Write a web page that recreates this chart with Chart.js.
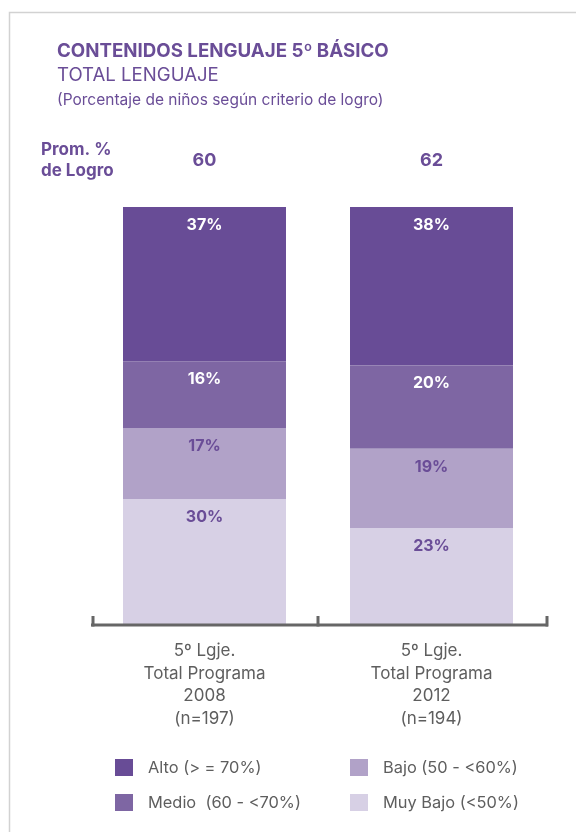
<!DOCTYPE html>
<html>
<head>
<meta charset="utf-8">
<script src="https://cdn.jsdelivr.net/npm/chart.js@4.4.1/dist/chart.umd.min.js"></script>
<style>
  html, body { margin: 0; padding: 0; background: #ffffff; }
  #wrap { width: 576px; height: 832px; position: relative; }
</style>
</head>
<body>
<div id="wrap"><canvas id="c" width="576" height="832"></canvas></div>
<script>
// Categories (multi-line axis labels)
const categories = [
  ["5º Lgje.", "Total Programa", "2008", "(n=197)"],
  ["5º Lgje.", "Total Programa", "2012", "(n=194)"]
];
// Share of children per achievement level (%)
const alto    = [37, 38];
const medio   = [16, 20];
const bajo    = [17, 19];
const muyBajo = [30, 23];
// Average achievement per group
const promLogro = [60, 62];

const seriesNames = ["Alto (> = 70%)", "Medio  (60 - <70%)", "Bajo (50 - <60%)", "Muy Bajo (<50%)"];

const FONT = "Inter, 'Liberation Sans', Arial, sans-serif";
const PURPLE = "#6a4d97";
const GREY = "#5e5e5e";
const COLORS = { alto: "#684c96", medio: "#7e66a3", bajo: "#b1a2c8", muyBajo: "#d7d0e5" };

// Frame, headings, averages, value labels, axis line and legend
const decorations = {
  id: "decorations",
  beforeDraw(chart) {
    const ctx = chart.ctx;
    ctx.save();
    ctx.strokeStyle = "#d2d2d2";
    ctx.lineWidth = 1.5;
    ctx.beginPath();
    ctx.moveTo(9.5, 832);
    ctx.lineTo(9.5, 12.5);
    ctx.lineTo(576, 12.5);
    ctx.stroke();

    ctx.fillStyle = PURPLE;
    ctx.textAlign = "left";
    ctx.textBaseline = "alphabetic";
    ctx.font = "bold 18.7px " + FONT;
    ctx.fillText("CONTENIDOS LENGUAJE 5º BÁSICO", 57, 57);
    ctx.font = "18.6px " + FONT;
    ctx.fillText("TOTAL LENGUAJE", 57, 81);
    ctx.font = "15.5px " + FONT;
    ctx.fillText("(Porcentaje de niños según criterio de logro)", 57, 105);

    ctx.font = "bold 17px " + FONT;
    ctx.fillText("Prom. %", 41, 155);
    ctx.fillText("de Logro", 41, 176);
    ctx.restore();
  },
  afterDatasetsDraw(chart) {
    const ctx = chart.ctx;
    const area = chart.chartArea;
    const xs = chart.scales.x;
    ctx.save();

    // averages above each bar
    ctx.fillStyle = PURPLE;
    ctx.font = "bold 18px " + FONT;
    ctx.textAlign = "center";
    ctx.textBaseline = "middle";
    promLogro.forEach((v, i) => {
      ctx.fillText(String(v), xs.getPixelForValue(i), 161);
    });

    // segment value labels near the top of each segment
    ctx.font = "bold 16px " + FONT;
    chart.data.datasets.forEach((ds, di) => {
      const meta = chart.getDatasetMeta(di);
      meta.data.forEach((bar, j) => {
        ctx.fillStyle = ds.labelColor;
        ctx.fillText(ds.data[j] + "%", bar.x, bar.y + 18);
      });
    });

    // axis line with upward ticks at the category boundaries
    ctx.strokeStyle = "#666666";
    ctx.fillStyle = "#666666";
    ctx.lineWidth = 3;
    const yAxis = area.bottom + 1;
    const xEnd = area.right + 3;
    ctx.beginPath();
    ctx.moveTo(area.left, yAxis);
    ctx.lineTo(xEnd, yAxis);
    ctx.stroke();
    const half = (xs.getPixelForValue(1) - xs.getPixelForValue(0)) / 2;
    const bounds = [area.left + 1.5, xs.getPixelForValue(0) + half, xEnd - 1.5];
    bounds.forEach(x => {
      ctx.fillRect(Math.round(x) - 1.5, yAxis - 9, 3, 10.5);
    });

    // legend (two columns)
    const legendColors = [COLORS.alto, COLORS.medio, COLORS.bajo, COLORS.muyBajo];
    const pos = [[115, 767], [115, 802], [350, 767], [350, 802]];
    ctx.font = "16.4px " + FONT;
    ctx.textAlign = "left";
    ctx.textBaseline = "middle";
    [0, 1, 2, 3].forEach(k => {
      const [x, y] = pos[k];
      ctx.fillStyle = legendColors[k];
      ctx.fillRect(x, y - 8, 18, 17);
      ctx.fillStyle = GREY;
      ctx.fillText(seriesNames[k], x + 33, y + 1);
    });
    ctx.restore();
  }
};

new Chart(document.getElementById("c"), {
  type: "bar",
  data: {
    labels: categories,
    datasets: [
      { label: seriesNames[3], data: muyBajo, backgroundColor: COLORS.muyBajo, labelColor: PURPLE },
      { label: seriesNames[2], data: bajo,    backgroundColor: COLORS.bajo,    labelColor: PURPLE },
      { label: seriesNames[1], data: medio,   backgroundColor: COLORS.medio,   labelColor: "#ffffff" },
      { label: seriesNames[0], data: alto,    backgroundColor: COLORS.alto,    labelColor: "#ffffff" }
    ]
  },
  options: {
    responsive: false,
    animation: false,
    devicePixelRatio: 1,
    layout: { padding: { left: 91, right: 31, top: 207, bottom: 0 } },
    datasets: { bar: { barPercentage: 0.718, categoryPercentage: 1, borderWidth: 0 } },
    plugins: { legend: { display: false }, tooltip: { enabled: false } },
    scales: {
      x: {
        stacked: true,
        grid: { display: false, drawTicks: false },
        border: { display: false },
        ticks: {
          color: GREY,
          font: { family: FONT, size: 17, lineHeight: 1.32 },
          padding: 16,
          maxRotation: 0,
          autoSkip: false
        },
        afterFit(scale) { scale.height = 208; }
      },
      y: {
        stacked: true,
        display: false,
        min: 0,
        max: 100
      }
    }
  },
  plugins: [decorations]
});
</script>
</body>
</html>
